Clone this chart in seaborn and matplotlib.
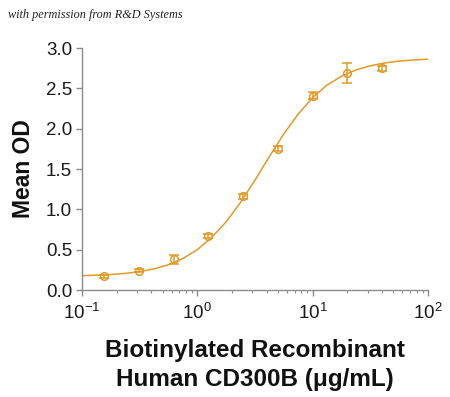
import numpy as np
import pandas as pd
import matplotlib
matplotlib.use('Agg')
import matplotlib.pyplot as plt
import seaborn as sns
from matplotlib.ticker import LogLocator, FixedLocator

# Data
conc = [0.156, 0.3125, 0.625, 1.25, 2.5, 5, 10, 20, 40]
mean_od = [0.17, 0.24, 0.38, 0.67, 1.16, 1.75, 2.41, 2.69, 2.75]
err = [0.02, 0.02, 0.06, 0.02, 0.03, 0.03, 0.04, 0.12, 0.03]

# fitted curve
curve_x = [0.1, 0.133, 0.178, 0.237, 0.316, 0.422, 0.562, 0.750, 1.0,
           1.33, 1.78, 2.37, 3.16, 4.22, 5.62, 7.50, 10, 13.3, 17.8,
           23.7, 31.6, 42.2, 56.2, 75.0, 100]
curve_y = [0.178, 0.184, 0.192, 0.206, 0.228, 0.262, 0.313, 0.390, 0.500,
           0.650, 0.845, 1.085, 1.361, 1.654, 1.934, 2.181, 2.385, 2.540,
           2.650, 2.728, 2.780, 2.815, 2.838, 2.852, 2.862]

x_ticklabels = ['$10^{-1}$', '$10^{0}$', '$10^{1}$', '$10^{2}$']
y_ticklabels = ['0.0', '0.5', '1.0', '1.5', '2.0', '2.5', '3.0']

ORANGE = '#E09A28'
GREY = '#8C8C8C'

sns.set_theme(style='white')
plt.rcParams['font.family'] = ['Liberation Sans', 'DejaVu Sans']
plt.rcParams['mathtext.fontset'] = 'custom'
plt.rcParams['mathtext.rm'] = 'Liberation Sans'
plt.rcParams['mathtext.it'] = 'Liberation Sans'

fig = plt.figure(figsize=(4.5, 3.97), dpi=100)
ax = fig.add_axes([0.182, 0.2695, 0.769, 0.6095])

df_curve = pd.DataFrame({'x': curve_x, 'y': curve_y})
sns.lineplot(data=df_curve, x='x', y='y', ax=ax, color=ORANGE, lw=1.1)

df = pd.DataFrame({'conc': conc, 'od': mean_od, 'err': err})
ax.errorbar(df['conc'], df['od'], yerr=df['err'], fmt='o', mfc='none',
            mec=ORANGE, ecolor=ORANGE, ms=5.5, mew=1.1, elinewidth=1.1,
            capsize=3.5, capthick=1.1, zorder=3)

ax.set_xscale('log')
ax.set_xlim(0.1, 100)
ax.set_ylim(0, 3.0)
ax.set_yticks([0, 0.5, 1.0, 1.5, 2.0, 2.5, 3.0])
ax.set_yticklabels(y_ticklabels)
ax.xaxis.set_major_locator(FixedLocator([0.1, 1, 10, 100]))
ax.set_xticklabels(x_ticklabels)
ax.xaxis.set_minor_locator(LogLocator(base=10, subs=np.arange(2, 10)))

for s in ['top', 'right']:
    ax.spines[s].set_visible(False)
for s in ['left', 'bottom']:
    ax.spines[s].set_color(GREY)
    ax.spines[s].set_linewidth(1.0)

ax.tick_params(bottom=True, left=True, which='both')
ax.tick_params(axis='both', which='major', direction='out', length=4,
               width=1, color=GREY, labelsize=13.5, labelcolor='#1a1a1a', pad=3)
ax.tick_params(axis='x', which='minor', direction='out', length=2.5,
               width=0.8, color=GREY)
ax.tick_params(axis='x', which='major', pad=5)
ax.grid(False)

ax.set_xlabel('Biotinylated Recombinant\nHuman CD300B (\u03bcg/mL)',
              fontsize=17.5, fontweight='bold', labelpad=12, linespacing=1.3,
              color='#111111')
ax.set_ylabel('Mean OD', fontsize=16.5, fontweight='bold', labelpad=8,
              color='#111111')

fig.text(0.018, 0.955, 'with permission from R&D Systems', fontsize=8.8,
         style='italic', family='Liberation Serif', color='#222222')

fig.savefig('out.png', dpi=100, facecolor='white')
